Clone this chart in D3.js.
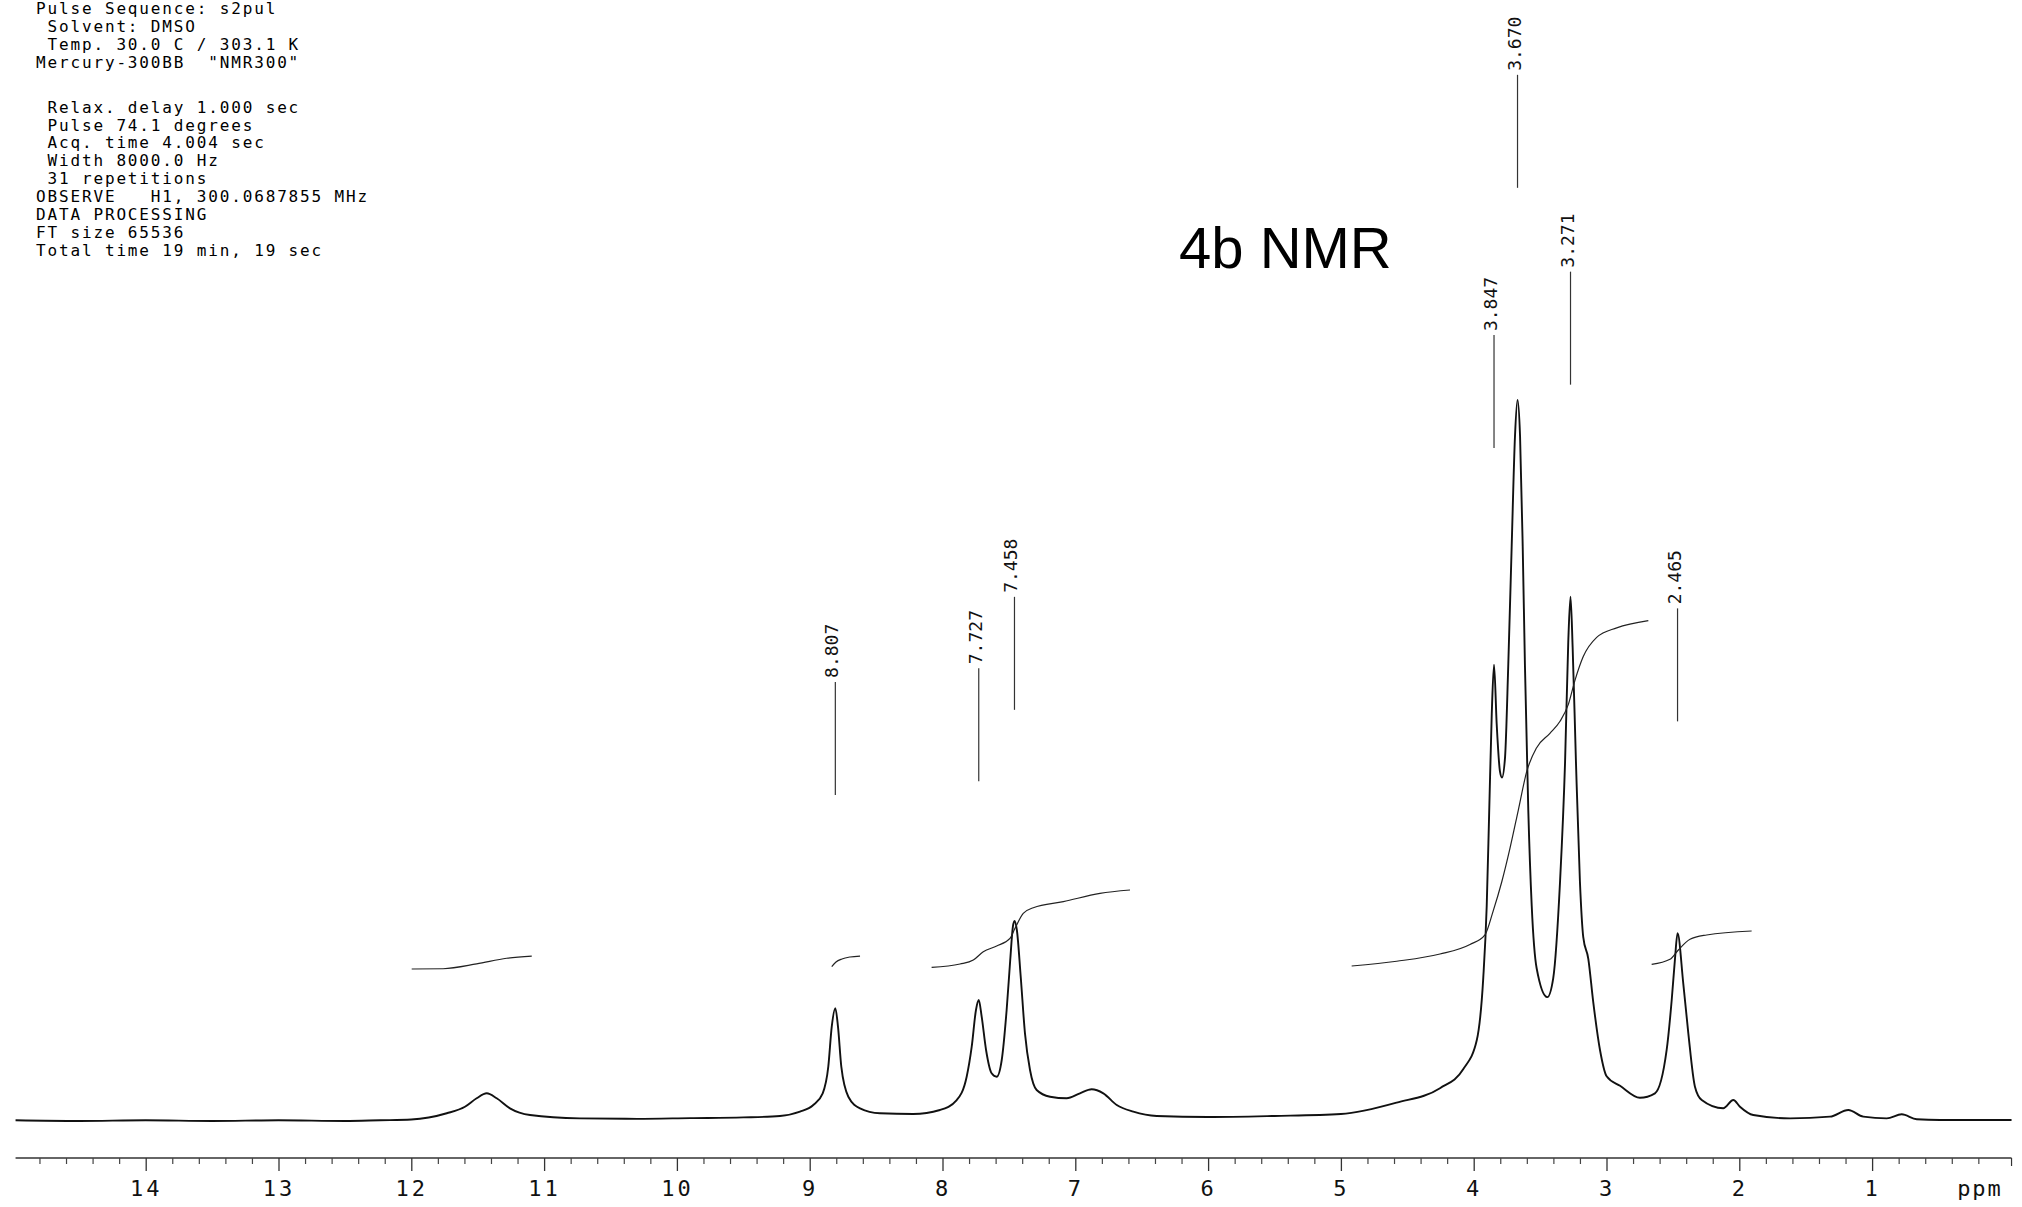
<!DOCTYPE html>
<html>
<head>
<meta charset="utf-8">
<script src="https://cdn.jsdelivr.net/npm/d3@7"></script>
<style>
  html, body { margin: 0; padding: 0; background: #fff; }
  svg { display: block; }
</style>
</head>
<body>
<svg id="chart" width="2022" height="1207"></svg>
<script>
// ---------------- DATA ----------------
// Acquisition header (as printed on the plot)
const headerLines = [
  "Pulse Sequence: s2pul",
  " Solvent: DMSO",
  " Temp. 30.0 C / 303.1 K",
  "Mercury-300BB  \"NMR300\"",
  " Relax. delay 1.000 sec",
  " Pulse 74.1 degrees",
  " Acq. time 4.004 sec",
  " Width 8000.0 Hz",
  " 31 repetitions",
  "OBSERVE   H1, 300.0687855 MHz",
  "DATA PROCESSING",
  "FT size 65536",
  "Total time 19 min, 19 sec"
];
const titleText = "4b NMR";

// Spectrum trace: [chemical shift (ppm), intensity (tallest peak = 100)]
const spectrum = [
  [14.98, 0.1], [14.5, 0.0], [14.0, 0.1], [13.5, 0.0], [13.0, 0.1], [12.5, 0.0],
  [12.235, 0.1], [12.0, 0.2], [11.733, 1.07], [11.596, 1.98], [11.508, 3.15],
  [11.432, 3.84], [11.357, 3.15], [11.257, 1.76], [11.106, 0.83], [10.73, 0.37],
  [10.3, 0.3], [9.9, 0.4], [9.5, 0.5], [9.224, 0.69], [9.073, 1.29], [8.973, 2.22],
  [8.902, 3.84], [8.86, 7.53], [8.834, 13.08], [8.807, 15.63], [8.787, 13.08],
  [8.762, 7.53], [8.709, 3.37], [8.621, 1.76], [8.471, 1.07], [8.22, 0.97],
  [8.019, 1.53], [7.893, 2.91], [7.818, 6.14], [7.78, 10.31], [7.748, 15.4],
  [7.727, 16.78], [7.705, 14.47], [7.672, 9.85], [7.63, 6.62], [7.592, 6.14],
  [7.554, 8.46], [7.517, 15.4], [7.49, 22.33], [7.47, 26.95], [7.458, 27.74],
  [7.44, 26.49], [7.411, 20.01], [7.379, 12.16], [7.341, 7.07], [7.291, 4.3],
  [7.19, 3.37], [7.065, 3.15], [6.965, 3.84], [6.877, 4.4], [6.789, 3.84],
  [6.688, 2.22], [6.563, 1.29], [6.387, 0.69], [6.0, 0.55], [5.5, 0.7],
  [5.0, 0.97], [4.58, 2.55], [4.254, 4.55], [4.078, 7.21], [3.977, 11.19],
  [3.928, 19.85], [3.902, 29.82], [3.883, 43.13], [3.864, 56.44], [3.847, 63.29],
  [3.827, 55.1], [3.802, 48.45], [3.787, 47.64], [3.764, 50.44], [3.74, 63.08],
  [3.714, 79.71], [3.689, 95.01], [3.67, 100], [3.651, 95.01], [3.631, 79.71],
  [3.614, 63.08], [3.589, 43.13], [3.563, 29.82], [3.526, 21.18], [3.446, 17.18],
  [3.401, 19.83], [3.35, 33.15], [3.312, 49.79], [3.288, 66.41], [3.271, 72.73],
  [3.255, 65.74], [3.23, 49.79], [3.2, 33.15], [3.175, 25.49], [3.137, 22.5],
  [3.1, 16.52], [3.049, 9.85], [2.999, 6.2], [2.898, 4.88], [2.748, 3.22],
  [2.635, 3.84], [2.547, 9.85], [2.509, 16.78], [2.485, 22.33], [2.465, 26.03],
  [2.422, 19.1], [2.384, 12.2], [2.334, 4.76], [2.283, 2.91], [2.121, 1.76],
  [2.045, 2.91], [1.995, 1.98], [1.895, 0.83], [1.618, 0.37], [1.317, 0.6],
  [1.179, 1.53], [1.066, 0.6], [0.89, 0.37], [0.777, 0.93], [0.664, 0.24],
  [0.489, 0.14], [-0.05, 0.14]
];

// Integral traces (same units)
const integral1 = [[11.997, 21.08], [11.761, 21.12], [11.508, 21.78], [11.282, 22.57], [11.093, 22.88]];
const integral2 = [[8.834, 21.4], [8.802, 22.05], [8.757, 22.47], [8.696, 22.75], [8.621, 22.88]];
const integral3 = [[8.082, 21.32], [7.868, 21.78], [7.768, 22.33], [7.693, 23.48], [7.592, 24.27],
  [7.492, 25.34], [7.454, 26.73], [7.392, 28.81], [7.316, 29.58], [7.09, 30.42], [6.814, 31.58], [6.588, 32.04]];
const integral4 = [[4.919, 21.5], [4.58, 22.16], [4.254, 23.16], [4.028, 24.49], [3.915, 25.83],
  [3.853, 29.15], [3.789, 33.15], [3.727, 37.81], [3.664, 43.13], [3.601, 48.45], [3.526, 51.78],
  [3.426, 53.77], [3.35, 55.44], [3.288, 57.75], [3.238, 61.08], [3.175, 64.41], [3.074, 67.07],
  [2.923, 68.4], [2.685, 69.4]];
const integral5 = [[2.66, 21.73], [2.522, 22.43], [2.459, 23.72], [2.371, 25.2], [2.246, 25.8], [1.907, 26.35]];
const integrals = [integral1, integral2, integral3, integral4, integral5];

// Peak pick labels and the intensity level of each label stem top
const peakLabels = ["8.807", "7.727", "7.458", "3.847", "3.670", "3.271", "2.465"];
const peakShifts = [8.807, 7.727, 7.458, 3.847, 3.670, 3.271, 2.465];
const labelTops  = [60.9, 62.8, 72.7, 109.0, 145.1, 117.8, 71.1];

// Axis
const majorTicks = [14, 13, 12, 11, 10, 9, 8, 7, 6, 5, 4, 3, 2, 1];
const axisUnit = "ppm";
const axisExtent = [14.98, -0.05];

// ---------------- LAYOUT ----------------
const svg = d3.select("#chart");
const x = d3.scaleLinear().domain([15, 0]).range([12.9, 2004.9]);
const y = d3.scaleLinear().domain([0, 100]).range([1121, 400]);
const axisY = 1158;
const stemLen = 113;
const monoFont = "'DejaVu Sans Mono', 'Liberation Mono', monospace";

// Header text
const header = svg.append("g").attr("font-family", monoFont).attr("font-size", 16)
  .attr("letter-spacing", "1.85px").attr("fill", "#000");
const headerBaselines = [14, 32.3, 50, 67.7, 112.7, 130.7, 148.3, 166, 184, 202, 220, 237.7, 255.7];
header.selectAll("text").data(headerLines).join("text")
  .attr("x", 36)
  .attr("y", (d, i) => headerBaselines[i])
  .attr("xml:space", "preserve")
  .style("white-space", "pre")
  .text(d => d);

// Title
svg.append("text")
  .attr("x", 1179).attr("y", 268)
  .attr("font-family", "'Liberation Sans', Arial, Helvetica, sans-serif")
  .attr("font-size", 58).attr("fill", "#000")
  .text(titleText);

// Spectrum
const line = d3.line().x(d => x(d[0])).y(d => y(d[1])).curve(d3.curveMonotoneX);
svg.append("path").datum(spectrum)
  .attr("d", line)
  .attr("fill", "none").attr("stroke", "#111").attr("stroke-width", 1.9)
  .attr("stroke-linejoin", "round");

// Integrals
const iline = d3.line().x(d => x(d[0])).y(d => y(d[1])).curve(d3.curveMonotoneX);
svg.append("g").selectAll("path").data(integrals).join("path")
  .attr("d", iline)
  .attr("fill", "none").attr("stroke", "#222").attr("stroke-width", 1.2);

// Peak labels
const lab = svg.append("g");
peakLabels.forEach((t, i) => {
  const px = x(peakShifts[i]);
  const top = y(labelTops[i]);
  lab.append("line")
    .attr("x1", px).attr("x2", px).attr("y1", top).attr("y2", top + stemLen)
    .attr("stroke", "#333").attr("stroke-width", 1.2);
  lab.append("text")
    .attr("transform", `translate(${px + 3},${top - 4}) rotate(-90)`)
    .attr("font-family", monoFont).attr("font-size", 18).attr("fill", "#111")
    .text(t);
});

// Axis
const axisG = svg.append("g").attr("transform", `translate(0,${axisY})`);
axisG.append("line")
  .attr("x1", x(axisExtent[0])).attr("x2", x(axisExtent[1]))
  .attr("y1", 0).attr("y2", 0)
  .attr("stroke", "#333").attr("stroke-width", 1.5);

const minorVals = d3.range(2, 150, 2).map(v => v / 10).filter(v => Math.abs(v - Math.round(v)) > 1e-6);
const minorAxis = d3.axisBottom(x).tickValues(minorVals).tickSize(6).tickFormat("").tickSizeOuter(0);
const mg = axisG.append("g").call(minorAxis);
mg.select(".domain").remove();
mg.selectAll(".tick line").attr("stroke", "#444").attr("stroke-width", 1.2);

const majorAxis = d3.axisBottom(x).tickValues(majorTicks).tickSize(13).tickPadding(9)
  .tickFormat(d3.format("d")).tickSizeOuter(0);
const Mg = axisG.append("g").call(majorAxis);
Mg.select(".domain").remove();
Mg.selectAll(".tick line").attr("stroke", "#333").attr("stroke-width", 1.3);
Mg.selectAll(".tick text")
  .attr("font-family", monoFont).attr("font-size", 22).attr("fill", "#111")
  .attr("letter-spacing", "3px");

// end tick + unit
axisG.append("line")
  .attr("x1", x(axisExtent[1])).attr("x2", x(axisExtent[1]))
  .attr("y1", 0).attr("y2", 8).attr("stroke", "#333").attr("stroke-width", 1.2);
axisG.append("text")
  .attr("x", 1980).attr("y", 38)
  .attr("text-anchor", "middle")
  .attr("font-family", monoFont).attr("font-size", 22).attr("fill", "#111")
  .attr("letter-spacing", "2px")
  .text(axisUnit);
</script>
</body>
</html>
